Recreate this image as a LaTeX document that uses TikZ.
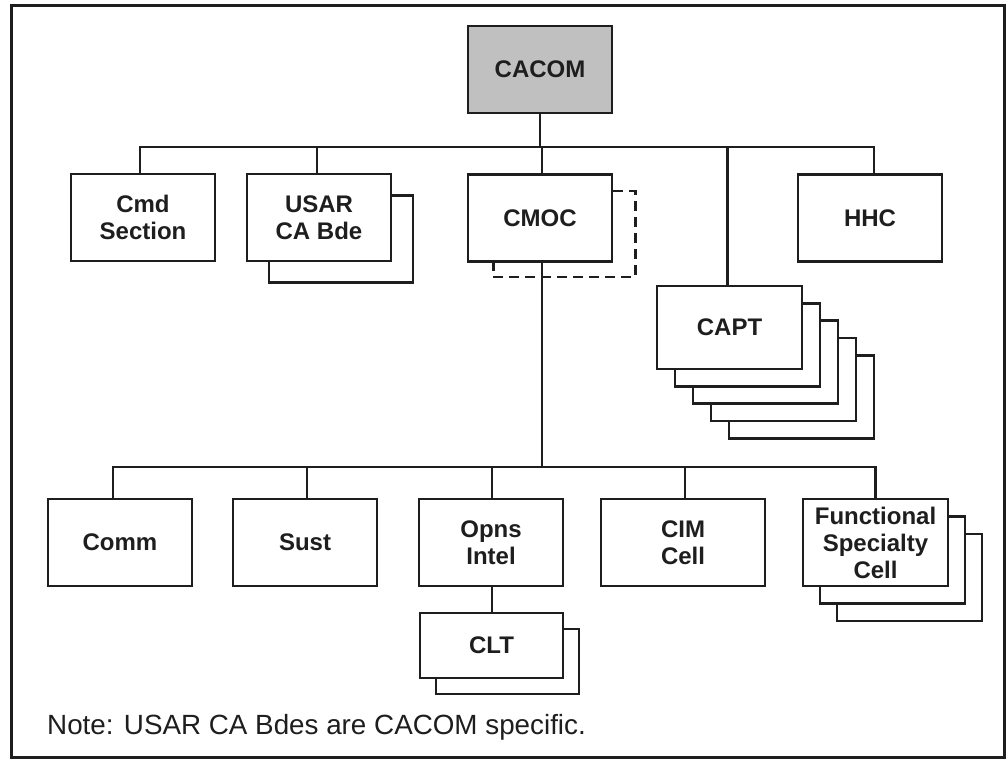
\documentclass[tikz,border=0pt]{standalone}
\usepackage{fontspec}
\setmainfont{Liberation Sans}
\usetikzlibrary{calc}
\definecolor{ink}{RGB}{30,30,30}
\definecolor{cgray}{RGB}{192,192,192}
\begin{document}
\begin{tikzpicture}[x=1pt,y=-1pt,
  box/.style={draw=ink, line width=2.6pt, fill=white, minimum width=144pt, minimum height=87pt,
    inner sep=0pt, align=center, text=ink, font=\bfseries\fontsize{24}{27}\selectfont},
  shadowbox/.style={draw=ink, line width=2.6pt, fill=white, minimum width=144pt, minimum height=87pt, inner sep=0pt},
  link/.style={draw=ink, line width=2.4pt},
  dashline/.style={draw=ink, line width=2.4pt, dash pattern=on 10pt off 6pt}]
\useasboundingbox (0,0) rectangle (1008,759);
\draw[ink, line width=3pt] (11,6) rectangle (1004,757);

% top
\node[box, fill=cgray] (cacom) at (540,69.5) {CACOM};
\node[box] (cmd) at (143,217.5) {Cmd\\Section};
\node[shadowbox] (usars) at (341,239) {};
\node[box] (usar) at (319,217.5) {USAR\\CA Bde};
\node[box] (cmoc) at (540,218) {CMOC};
\node[box] (hhc) at (870,218) {HHC};
\foreach \k in {4,3,2,1}
  \node[shadowbox, minimum width=145pt, minimum height=83pt] (capts\k) at (729.5+18*\k,327.5+17.3*\k) {};
\node[box, minimum width=145pt, minimum height=83pt] (capt) at (729.5,327.5) {CAPT};

% dashed shadow of CMOC
\draw[dashline] ($(cmoc.north east)+(0,18)$) -- ++(22,0) -- ++(0,86) -- ++(-142,0) -- ++(0,-18);

% bottom row
\node[box] (comm) at (120,542.5) {Comm};
\node[box] (sust) at (305,542.5) {Sust};
\node[box] (opns) at (491,542.5) {Opns\\Intel};
\node[box, minimum width=164pt] (cim) at (683,542.5) {CIM\\Cell};
\foreach \k in {2,1}
  \node[shadowbox, minimum width=145pt] (funcs\k) at (875.5+17*\k,542.5+17.5*\k) {};
\node[box, minimum width=145pt] (func) at (875.5,542.5) {Functional\\Specialty\\Cell};
\node[shadowbox, minimum width=143pt, minimum height=65pt] (clts) at (507.5,661.5) {};
\node[box, minimum width=143pt, minimum height=65pt] (clt) at (491.5,645.5) {CLT};

% connectors top
\coordinate (tb) at (540,147);
\draw[link] (cacom.south) -- (tb);
\draw[link] ([xshift=-3pt]cmd.north) -- ([xshift=-3pt]cmd.north |- tb) -- ([xshift=4pt]hhc.north |- tb) -- ([xshift=4pt]hhc.north);
\draw[link] ([xshift=-2pt]usar.north) -- ([xshift=-2pt]usar.north |- tb);
\draw[link] ([xshift=2pt]cmoc.north) -- ([xshift=2pt]cmoc.north |- tb);
\draw[link] ([xshift=-2pt]capt.north) -- ([xshift=-2pt]capt.north |- tb);

% connectors bottom
\coordinate (bb) at (540,467);
\draw[link] ([xshift=2pt]cmoc.south) -- ([xshift=2pt]cmoc.south |- bb);
\draw[link] ([xshift=-7pt]comm.north) -- ([xshift=-7pt]comm.north |- bb) -- (func.north |- bb) -- (func.north);
\draw[link] ([xshift=2pt]sust.north) -- ([xshift=2pt]sust.north |- bb);
\draw[link] ([xshift=1pt]opns.north) -- ([xshift=1pt]opns.north |- bb);
\draw[link] ([xshift=2pt]cim.north) -- ([xshift=2pt]cim.north |- bb);
\draw[link] ([xshift=1pt]opns.south) -- ([xshift=1pt]opns.south |- clt.north);

% note
\node[anchor=west, inner sep=0pt, text=ink, font=\fontsize{27.8}{32}\selectfont] (note) at (47,727) {Note: USAR CA Bdes are CACOM specific.};
\end{tikzpicture}
\end{document}
